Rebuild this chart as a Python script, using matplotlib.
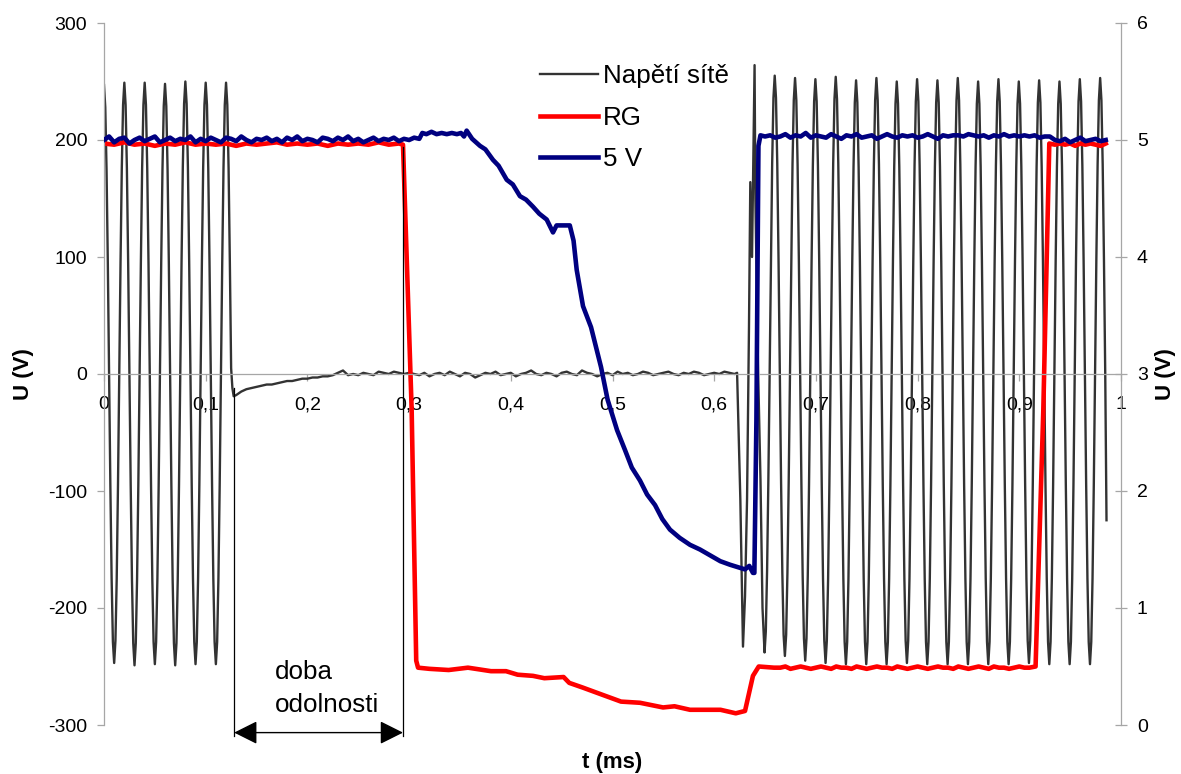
import numpy as np
import matplotlib
matplotlib.use("Agg")
import matplotlib.pyplot as plt
from matplotlib.patches import ArrowStyle

plt.rcParams['font.family'] = ['Liberation Sans', 'DejaVu Sans']
plt.rcParams['axes.unicode_minus'] = False

# ---------------- data ----------------
X_TICKS = [0, 0.1, 0.2, 0.3, 0.4, 0.5, 0.6, 0.7, 0.8, 0.9, 1.0]
X_LABELS = ["0", "0,1", "0,2", "0,3", "0,4", "0,5", "0,6", "0,7", "0,8", "0,9", "1"]
LEFT_TICKS = [-300, -200, -100, 0, 100, 200, 300]
RIGHT_TICKS = [0, 1, 2, 3, 4, 5, 6]
SERIES_NAMES = ["Napětí sítě", "RG", "5 V"]

# Napětí sítě (left axis, V) -- sampled record, segment A: start 0 ms, step 0.00125 ms
NET_A_START, NET_A_STEP = 0.0, 0.00125
NET_A = [
    247, 228, 175, 95, 0, -95, -175, -229,
    -247, -228, -175, -95, 0, 95, 176, 230,
    249, 230, 176, 95, 0, -95, -176, -230,
    -249, -230, -176, -95, 0, 95, 176, 230,
    249, 230, 176, 95, 0, -95, -175, -229,
    -248, -229, -175, -95, 0, 95, 175, 229,
    248, 229, 175, 95, 0, -95, -176, -230,
    -249, -230, -176, -95, 0, 96, 177, 231,
    250, 231, 177, 96, 0, -95, -175, -229,
    -248, -229, -175, -95, 0, 95, 176, 230,
    249, 230, 176, 95, 0, -95, -175, -229,
    -248, -229, -175, -95, 0, 95, 176, 230,
    249, 230, 176, 95, 5, -12, -19,
]
# segment B (interruption, residual voltage): start 0.13 ms, step 0.005 ms
NET_B_START, NET_B_STEP = 0.13, 0.005
NET_B = [
    -18, -15, -13, -12, -11, -10, -9, -9, -8, -7,
    -6, -6, -5, -4, -4, -3, -3, -2, -2, -1,
    1, 3, -1, 0, -1, 1, 0, -1, 2, 1,
    0, 2, 1, 0, 1,
    0, -1, 1, -2, 0, 1, -1, 2, 0, -2,
    1, 0, -3, -1, 1, 0, 2, -1, 0, 1,
    -2, 0, 1, 3, 0, -1, 1, 0, -2, 1,
    2, 0, -1, 3, 1, 0, -2, 0, 1, -1,
    2, 0, 1, -1, 0, 2, 1, -1, 0, 1,
    2, 0, -1, 1, 0, 2, 1, -1, 0, 1,
    0, 2, 1, 0,
]
# segment C (return of voltage), irregular samples
NET_C_T = [0.6225, 0.6257, 0.6283, 0.6303, 0.6323, 0.6342, 0.6355, 0.6372,
           0.6397, 0.6405, 0.6430, 0.6455, 0.6475]
NET_C_V = [1, -107, -233, -190, -107, 40, 164, 100, 264, 150, 10, -90, -200]
# segment D: start 0.6495 ms, step 0.00125 ms
NET_D_START, NET_D_STEP = 0.6495, 0.00125
NET_D = [
    -238, -220, -168, -91, 0, 98, 180, 236,
    255, 236, 180, 98, 0, -92, -170, -223,
    -241, -223, -170, -92, 0, 97, 179, 234,
    253, 234, 179, 97, 0, -94, -173, -226,
    -245, -226, -173, -94, 0, 96, 178, 233,
    252, 233, 178, 96, 0, -95, -175, -228,
    -247, -228, -175, -95, 0, 97, 180, 235,
    254, 235, 180, 97, 0, -95, -175, -229,
    -248, -229, -175, -95, 0, 96, 177, 232,
    251, 232, 177, 96, 0, -95, -175, -229,
    -248, -229, -175, -95, 0, 97, 179, 234,
    253, 234, 179, 97, 0, -95, -175, -229,
    -248, -229, -175, -95, 0, 96, 177, 231,
    250, 231, 177, 96, 0, -95, -175, -228,
    -247, -228, -175, -95, 0, 96, 178, 233,
    252, 233, 178, 96, 0, -95, -175, -229,
    -248, -229, -175, -95, 0, 96, 177, 232,
    251, 232, 177, 96, 0, -95, -175, -229,
    -248, -229, -175, -95, 0, 97, 179, 234,
    253, 234, 179, 97, 0, -95, -175, -229,
    -248, -229, -175, -95, 0, 96, 177, 231,
    250, 231, 177, 96, 0, -95, -175, -229,
    -248, -229, -175, -95, 0, 96, 178, 233,
    252, 233, 178, 96, 0, -95, -175, -229,
    -248, -229, -175, -95, 0, 96, 177, 231,
    250, 231, 177, 96, 0, -95, -175, -228,
    -247, -228, -175, -95, 0, 96, 177, 232,
    251, 232, 177, 96, 0, -95, -175, -229,
    -248, -229, -175, -95, 0, 96, 177, 231,
    250, 231, 177, 96, 0, -95, -175, -229,
    -248, -229, -175, -95, 0, 96, 178, 233,
    252, 233, 178, 96, 0, -95, -175, -229,
    -248, -229, -175, -95, 0, 97, 179, 234,
    253, 234, 179, 97, 0, -125,
]

# RG (left axis, V)
RG_A_START, RG_A_STEP = 0.0, 0.01
RG_A = [197, 196, 198, 196, 197, 195, 197, 196, 198, 196,
        197, 196, 197, 195, 197, 196, 197, 198, 196, 197,
        196, 197, 195, 197, 196, 197, 196, 198, 196, 197]
RG_B_T = [0.294, 0.3025, 0.307, 0.3088, 0.32, 0.3389, 0.3579, 0.3805, 0.3953,
          0.4067, 0.4218, 0.433, 0.4519, 0.4575, 0.4707, 0.4895, 0.5084, 0.527,
          0.5497, 0.561, 0.5762, 0.6062, 0.6212, 0.6303, 0.6381, 0.6438, 0.6588]
RG_B_V = [196, -30, -245, -251, -252, -253, -251, -254, -254,
          -257, -258, -260, -259, -264, -268, -274, -280, -281,
          -285, -284, -287, -287, -290, -288, -258, -250, -251]
RG_C_START, RG_C_STEP = 0.665, 0.005
RG_C = [-251, -250, -252, -251, -250, -251, -252, -251, -250, -251,
        -252, -250, -251, -251, -252, -250, -251, -252, -251, -250,
        -251, -251, -252, -250, -251, -252, -251, -250, -251, -252,
        -251, -250, -251, -251, -252, -250, -251, -252, -251, -250,
        -251, -252, -250, -251, -251, -252, -251, -250, -251, -251]
RG_D_T = [0.916, 0.9236, 0.9295, 0.935]
RG_D_V = [-250, -31, 197, 196]
RG_E_START, RG_E_STEP = 0.94, 0.005
RG_E = [197, 196, 197, 195, 197, 196, 197, 196, 195, 197]

# 5 V (right axis, V)
V5_A_START, V5_A_STEP = 0.0, 0.005
V5_A = [5.00, 5.03, 4.98, 5.01, 5.02, 4.97, 5.00, 5.02, 4.99, 5.01,
        5.03, 4.98, 5.00, 5.02, 4.99, 5.01, 5.00, 5.03, 4.98, 5.01,
        4.99, 5.02, 5.00, 4.98, 5.02, 5.01, 4.99, 5.03, 5.00, 4.98,
        5.01, 5.00, 5.02, 4.99, 5.01, 4.98, 5.02, 5.00, 5.03, 4.99,
        5.01, 5.00, 4.98, 5.02, 5.01, 4.99, 5.02, 5.00, 5.03, 4.99,
        5.01, 4.98, 5.00, 5.02, 4.99, 5.01, 5.00, 5.02, 4.99, 5.01,
        5.00, 5.02]
V5_B_T = [0.31, 0.313, 0.317, 0.322, 0.327, 0.332, 0.337, 0.342, 0.347, 0.351,
          0.354, 0.3566, 0.362, 0.3697, 0.375, 0.3825, 0.388, 0.396, 0.402, 0.409,
          0.415, 0.4218, 0.428, 0.4353, 0.4415, 0.445, 0.452, 0.458, 0.4617, 0.4648,
          0.471, 0.4789, 0.4887, 0.4952, 0.5045, 0.5123, 0.519, 0.527, 0.534, 0.5418,
          0.549, 0.5565, 0.566, 0.5762, 0.586, 0.5959, 0.606, 0.6155, 0.623, 0.6303,
          0.6345, 0.6381, 0.6395, 0.6415, 0.6435, 0.6455]
V5_B_V = [5.01, 5.06, 5.05, 5.07, 5.05, 5.06, 5.05, 5.06, 5.05, 5.06,
          5.03, 5.08, 5.01, 4.95, 4.92, 4.83, 4.78, 4.66, 4.62, 4.52,
          4.49, 4.43, 4.37, 4.32, 4.21, 4.27, 4.27, 4.27, 4.14, 3.89,
          3.58, 3.40, 3.06, 2.78, 2.52, 2.35, 2.20, 2.09, 1.97, 1.88,
          1.76, 1.67, 1.60, 1.54, 1.50, 1.45, 1.40, 1.37, 1.35, 1.33,
          1.36, 1.30, 1.30, 2.60, 4.95, 5.04]
V5_C_START, V5_C_STEP = 0.65, 0.005
V5_C = [5.03, 5.04, 5.02, 5.03, 5.05, 5.02, 5.04, 5.03, 5.06, 5.02,
        5.04, 5.03, 5.02, 5.05, 5.03, 5.01, 5.04, 5.03, 5.05, 5.02,
        5.03, 5.04, 5.01, 5.03, 5.05, 5.03, 5.02, 5.04, 5.03, 5.04,
        5.02, 5.03, 5.05, 5.03, 5.01, 5.04, 5.03, 5.04, 5.04, 5.03,
        5.05, 5.04, 5.03, 5.04, 5.02, 5.04, 5.03, 5.05, 5.03, 5.04,
        5.03, 5.04, 5.03, 5.04, 5.02, 5.03, 5.03]
V5_D_START, V5_D_STEP = 0.935, 0.005
V5_D = [5.00, 4.99, 5.01, 4.98, 5.00, 5.02, 4.99, 5.00, 5.01, 4.99, 5.00]

# "doba odolnosti" marker (ms)
DOBA_START, DOBA_END = 0.128, 0.294
DOBA_TEXT = ["doba", "odolnosti"]


def uniform(start, step, vals):
    return start + step * np.arange(len(vals)), np.asarray(vals, float)


def join(*parts):
    ts = np.concatenate([p[0] for p in parts])
    vs = np.concatenate([p[1] for p in parts])
    return ts, vs


net_t, net_v = join(uniform(NET_A_START, NET_A_STEP, NET_A),
                    uniform(NET_B_START, NET_B_STEP, NET_B),
                    (np.array(NET_C_T), np.array(NET_C_V, float)),
                    uniform(NET_D_START, NET_D_STEP, NET_D))
rg_t, rg_v = join(uniform(RG_A_START, RG_A_STEP, RG_A),
                  (np.array(RG_B_T), np.array(RG_B_V, float)),
                  uniform(RG_C_START, RG_C_STEP, RG_C),
                  (np.array(RG_D_T), np.array(RG_D_V, float)),
                  uniform(RG_E_START, RG_E_STEP, RG_E))
v5_t, v5_v = join(uniform(V5_A_START, V5_A_STEP, V5_A),
                  (np.array(V5_B_T), np.array(V5_B_V, float)),
                  uniform(V5_C_START, V5_C_STEP, V5_C),
                  uniform(V5_D_START, V5_D_STEP, V5_D))

# ---------------- figure ----------------
W, H = 1181, 774
fig = plt.figure(figsize=(W / 100, H / 100), dpi=100)
L, R, T, B = 104, 1121, 23, 725
ax = fig.add_axes([L / W, 1 - B / H, (R - L) / W, (B - T) / H])
ax2 = ax.twinx()

GRAY = '#a6a6a6'
NET_COLOR = '#333333'
RG_COLOR = '#ff0000'
V5_COLOR = '#000080'

l1, = ax.plot(net_t, net_v, color=NET_COLOR, lw=1.7, solid_joinstyle='round')
l2, = ax.plot(rg_t, rg_v, color=RG_COLOR, lw=3.3, solid_joinstyle='round')
l3, = ax2.plot(v5_t, v5_v, color=V5_COLOR, lw=3.3, solid_joinstyle='round')

ax.set_xlim(0, 1)
ax.set_ylim(-300, 300)
ax2.set_ylim(0, 6)
ax.set_xticks(X_TICKS)
ax.set_xticklabels(X_LABELS)
ax.set_yticks(LEFT_TICKS)
ax.set_yticklabels([str(v) for v in LEFT_TICKS])
ax2.set_yticks(RIGHT_TICKS)
ax2.set_yticklabels([str(v) for v in RIGHT_TICKS])

for s in ['top', 'right']:
    ax.spines[s].set_visible(False)
ax.spines['bottom'].set_position(('data', 0))
for s in ['left', 'bottom']:
    ax.spines[s].set_color(GRAY)
    ax.spines[s].set_linewidth(0.9)
for s in ['left', 'top', 'bottom']:
    ax2.spines[s].set_visible(False)
ax2.spines['right'].set_color(GRAY)
ax2.spines['right'].set_linewidth(0.9)

ax.tick_params(axis='x', direction='out', length=5, width=0.9, color=GRAY,
               pad=11, labelsize=14)
ax.tick_params(axis='y', direction='out', length=5, width=0.9, color=GRAY,
               pad=7, labelsize=14)
ax2.tick_params(axis='y', direction='inout', length=9, width=0.9, color=GRAY,
                pad=7, labelsize=14)

# axis titles
fig.text(23 / W, 1 - 374 / H, "U (V)", rotation=90, ha='center', va='center',
         fontsize=16, fontweight='bold')
fig.text(1165 / W, 1 - 374 / H, "U (V)", rotation=90, ha='center', va='center',
         fontsize=16, fontweight='bold')
fig.text(612 / W, 1 - 768 / H, "t (ms)", ha='center', va='baseline',
         fontsize=16, fontweight='bold')

# legend
ax2.legend([l1, l2, l3], SERIES_NAMES, loc='upper left',
           bbox_to_anchor=(540 / W, 1 - 64 / H), bbox_transform=fig.transFigure,
           frameon=False, fontsize=18.7, handlelength=2.23, handletextpad=0.2,
           labelspacing=0.68, borderpad=0, borderaxespad=0)

# "doba odolnosti" annotation
ax.plot([DOBA_START, DOBA_START], [-12, -309], color='black', lw=0.9, clip_on=False)
ax.plot([DOBA_END, DOBA_END], [194, -309], color='black', lw=0.9, clip_on=False)
ax.annotate('', xy=(DOBA_START, -306.5), xytext=(DOBA_END, -306.5),
            arrowprops=dict(arrowstyle=ArrowStyle('<|-|>', head_length=0.72, head_width=0.36),
                            mutation_scale=20, color='black', lw=1.0,
                            shrinkA=0, shrinkB=0),
            annotation_clip=False)
ax.text(0.1677, -260.3, DOBA_TEXT[0], fontsize=18.7, ha='left', va='baseline')
ax.text(0.1677, -288.5, DOBA_TEXT[1], fontsize=18.7, ha='left', va='baseline')

fig.savefig("out.png", dpi=100)
